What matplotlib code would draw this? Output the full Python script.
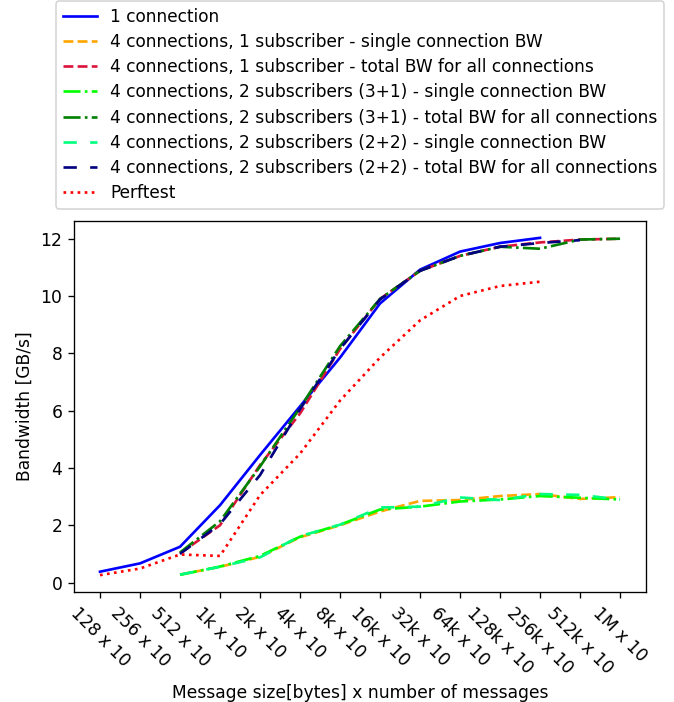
import numpy as np
import matplotlib
matplotlib.use("Agg")
import matplotlib.pyplot as plt

plt.rcParams['font.size'] = 10.3
plt.rcParams['lines.linewidth'] = 1.6

sizes = ['128 x 10', '256 x 10', '512 x 10', '1k x 10', '2k x 10', '4k x 10', '8k x 10',
         '16k x 10', '32k x 10', '64k x 10', '128k x 10', '256k x 10', '512k x 10', '1M x 10']

# 1 connection: 128 .. 256k
one_conn = [0.38, 0.67, 1.25, 2.7, 4.45, 6.15, 7.85, 9.74, 10.92, 11.55, 11.85, 12.03]
# perftest: 128 .. 256k
perftest = [0.26, 0.49, 0.98, 0.93, 3.05, 4.5, 6.35, 7.85, 9.15, 10.0, 10.35, 10.5]

# 4 connections series start at 512
c4_s1_single = [0.28, 0.55, 0.9, 1.58, 2.0, 2.48, 2.85, 2.88, 3.02, 3.09, 2.92, 2.98]
c4_s1_total = [1.02, 2.0, 4.1, 5.9, 8.15, 9.9, 10.88, 11.4, 11.72, 11.87, 11.97, 12.0]
c4_31_single = [0.27, 0.56, 0.93, 1.6, 2.02, 2.55, 2.65, 2.83, 2.9, 3.02, 2.96, 2.9]
c4_31_total = [1.05, 2.14, 4.05, 6.1, 8.25, 9.9, 10.88, 11.4, 11.72, 11.65, 11.97, 12.0]
c4_22_single = [0.28, 0.55, 0.88, 1.62, 2.02, 2.62, 2.65, 2.97, 2.88, 3.09, 3.06, 2.9]
c4_22_total = [1.0, 2.04, 3.75, 6.05, 8.15, 9.88, 10.88, 11.4, 11.72, 11.85, 11.95]

x = np.arange(len(sizes))

fig = plt.figure(figsize=(674/120, 702/120), dpi=120)
ax = fig.add_axes([0.1098, 0.1567, 0.8487, 0.5285])
ax.plot(x[:len(one_conn)], one_conn, label='1 connection', color='blue')
ax.plot(x[2:2+len(c4_s1_single)], c4_s1_single, '--', color='orange',
        label='4 connections, 1 subscriber - single connection BW')
ax.plot(x[2:2+len(c4_s1_total)], c4_s1_total, '--', color='crimson',
        label='4 connections, 1 subscriber - total BW for all connections')
ax.plot(x[2:2+len(c4_31_single)], c4_31_single, '-.', color='lime',
        label='4 connections, 2 subscribers (3+1) - single connection BW')
ax.plot(x[2:2+len(c4_31_total)], c4_31_total, '-.', color='green',
        label='4 connections, 2 subscribers (3+1) - total BW for all connections')
ax.plot(x[2:2+len(c4_22_single)], c4_22_single, linestyle=(0, (5, 5)), color='springgreen',
        label='4 connections, 2 subscribers (2+2) - single connection BW')
ax.plot(x[2:2+len(c4_22_total)], c4_22_total, linestyle=(0, (5, 5)), color='navy',
        label='4 connections, 2 subscribers (2+2) - total BW for all connections')
ax.plot(x[:len(perftest)], perftest, ':', color='red', label='Perftest')

ax.set_xticks(x)
ax.set_xticklabels(sizes, rotation=-45)
ax.set_xlabel('Message size[bytes] x number of messages')
ax.set_ylabel('Bandwidth [GB/s]')
ax.legend(loc='lower center', bbox_to_anchor=(0.5, 1.01), fontsize=10.2, labelspacing=0.42)
plt.savefig("out.png", dpi=120)
